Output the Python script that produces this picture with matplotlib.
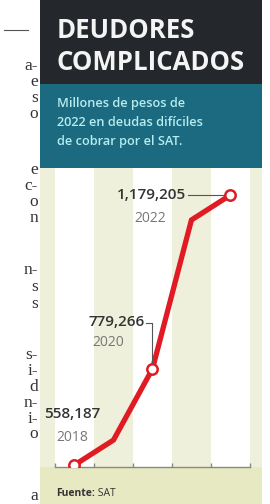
import matplotlib
matplotlib.use("Agg")
import matplotlib.pyplot as plt
from matplotlib.patches import Rectangle
from matplotlib.lines import Line2D

# ---- data ----
years = ["2018", "2019", "2020", "2021", "2022"]
values = [558187, 615600, 779266, 1121700, 1179205]
value_labels = ["558,187", "", "779,266", "", "1,179,205"]
title_lines = ["DEUDORES", "COMPLICADOS"]
subtitle_lines = ["Millones de pesos de", "2022 en deudas difíciles", "de cobrar por el SAT."]
source_bold = "Fuente:"
source_text = " SAT"

# neighbouring newspaper column fragments (text, y pixel)
frag_text = ["a-", "e", "s", "o", "e", "c-", "o", "n", "n-", "s", "s",
             "s-", "i-", "d", "n-", "i-", "o", "a"]
frag_y = [66, 82, 98, 114, 170, 186, 202, 218, 270, 287, 304,
          355, 371, 387, 403, 419, 434, 496]

W, H = 270, 504
fig = plt.figure(figsize=(W / 100, H / 100), dpi=100)
fig.patch.set_facecolor("white")

def fx(px):
    return px / W

def fy(py):
    return 1 - py / H

PL, PR = 40, 262
DARK = "#24272c"
TEAL = "#1c6a7f"
BEIGE = "#eef0dc"
STRIP = "#e6e9c2"
RED = "#e01b24"

# header bands
fig.add_artist(Rectangle((fx(PL), fy(84)), fx(PR - PL), 84 / H, transform=fig.transFigure,
                         facecolor=DARK, edgecolor="none", zorder=0))
fig.add_artist(Rectangle((fx(PL), fy(168)), fx(PR - PL), 84 / H, transform=fig.transFigure,
                         facecolor=TEAL, edgecolor="none", zorder=0))
fig.add_artist(Rectangle((fx(PL), 0), fx(PR - PL), fy(467), transform=fig.transFigure,
                         facecolor=STRIP, edgecolor="none", zorder=0))

# title
for i, t in enumerate(title_lines):
    fig.text(fx(57), fy(30 + 33 * i), t, color="#f4f4f4", fontsize=18.5,
             fontweight="bold", family="Open Sans", va="center", ha="left")
for i, t in enumerate(subtitle_lines):
    fig.text(fx(57), fy(104 + 18.5 * i), t, color="#b5ecf0", fontsize=9.2,
             fontweight="semibold", family="Open Sans", va="center", ha="left")

# source
tsrc = fig.text(fx(56), fy(493), source_bold, color="#333333", fontsize=7.5,
                fontweight="bold", family="Open Sans", va="center", ha="left")
fig.canvas.draw()
bb = tsrc.get_window_extent()
fig.text(bb.x1 / (W), fy(493), source_text, color="#333333", fontsize=7.5,
         family="Open Sans", va="center", ha="left")

# fragments of neighbouring column
fig.add_artist(Line2D([fx(4), fx(28)], [fy(30), fy(30)], transform=fig.transFigure,
                      color="#555555", lw=0.8))
for t, y in zip(frag_text, frag_y):
    fig.text(fx(38), fy(y), t, color="#333333", fontsize=12.5, family="Liberation Serif",
             va="center", ha="right")

# plot area
ax = fig.add_axes([fx(PL), fy(467), fx(PR - PL), (467 - 168) / H])
ax.set_facecolor(BEIGE)
x = list(range(len(years)))
for i in x:
    if i % 2 == 0:
        ax.axvspan(i - 0.5, i + 0.5, color="white", lw=0, zorder=0)
ax.set_xlim(-0.885, 4.81)
ax.set_ylim(553590, 1241270)
for s in ["top", "left", "right"]:
    ax.spines[s].set_visible(False)
ax.spines["bottom"].set_color("#8a8a80")
ax.spines["bottom"].set_linewidth(1.0)
ax.spines["bottom"].set_bounds(-0.5, 4.5)
ax.set_xticks([i - 0.5 for i in range(len(years) + 1)])
ax.set_xticklabels([])
ax.set_yticks([])
ax.tick_params(axis="x", direction="in", length=3, width=1, color="#8a8a80")

ax.plot(x, values, color=RED, lw=3.8, solid_joinstyle="miter", solid_capstyle="butt", zorder=3)
mx = [i for i, l in zip(x, value_labels) if l]
my = [v for v, l in zip(values, value_labels) if l]
ax.plot(mx, my, ls="none", marker="o", ms=7.5, mfc="white", mec=RED, mew=1.8, zorder=4)

fig.canvas.draw()

def pix(i):
    X, Y = ax.transData.transform((x[i], values[i]))
    return X, H - Y  # to top-origin pixels

NUM_C = "#333333"
YEAR_C = "#777777"
num_kw = dict(fontsize=11, fontweight="semibold", family="Open Sans", color=NUM_C)
yr_kw = dict(fontsize=10, family="Open Sans", color=YEAR_C)

def line_px(pts):
    fig.add_artist(Line2D([fx(p[0]) for p in pts], [fy(p[1]) for p in pts],
                          transform=fig.transFigure, color="#555555", lw=0.8, zorder=5))

# 2022
px_, py_ = pix(4)
fig.text(fx(px_ - 44), fy(py_), value_labels[4], ha="right", va="center", **num_kw)
fig.text(fx(px_ - 80), fy(py_ + 24), years[4], ha="center", va="center", **yr_kw)
line_px([(px_ - 42, py_), (px_ - 5, py_)])

# 2020
px_, py_ = pix(2)
fig.text(fx(px_ - 8), fy(py_ - 47), value_labels[2], ha="right", va="center", **num_kw)
fig.text(fx(px_ - 44), fy(py_ - 26), years[2], ha="center", va="center", **yr_kw)
line_px([(px_ - 6, py_ - 46), (px_, py_ - 46), (px_, py_ - 6)])

# 2018
px_, py_ = pix(0)
fig.text(fx(px_ - 2), fy(py_ - 51), value_labels[0], ha="center", va="center", **num_kw)
fig.text(fx(px_ - 2), fy(py_ - 28), years[0], ha="center", va="center", **yr_kw)

fig.savefig("out.png", dpi=100)
